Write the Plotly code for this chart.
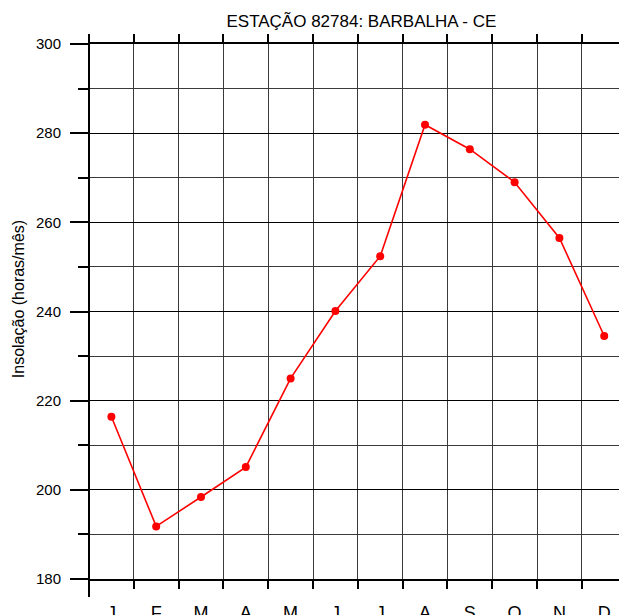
import plotly.graph_objects as go

months = ["J", "F", "M", "A", "M", "J", "J", "A", "S", "O", "N", "D"]
insolacao = [216.4, 191.8, 198.4, 205.1, 225.0, 240.1, 252.4, 281.9, 276.4, 269.0, 256.5, 234.5]
y_major = [180, 200, 220, 240, 260, 280, 300]
y_minor = [190, 210, 230, 250, 270, 290]

centers = [i + 0.5 for i in range(len(months))]
bounds = list(range(len(months)))

FONT = "Liberation Sans, Arial, sans-serif"
GRID = "#3a3a3a"

fig = go.Figure()
fig.add_trace(go.Scatter(
    x=centers, y=insolacao, mode="lines+markers",
    line=dict(color="#ff0000", width=1.6),
    marker=dict(color="#ff0000", size=8),
    cliponaxis=False, showlegend=False,
))

fig.update_layout(
    width=619, height=615,
    margin=dict(l=89, r=0, t=44, b=36.3, autoexpand=False),
    paper_bgcolor="white", plot_bgcolor="white",
    font=dict(family=FONT, color="black"),
    title=dict(text="ESTAÇÃO 82784: BARBALHA - CE", xref="paper", x=0.514, xanchor="center",
               y=0.976, yanchor="top", automargin=False,
               font=dict(size=17, family=FONT, color="black")),
    xaxis=dict(
        range=[0, 11.83], tickmode="array", tickvals=centers, ticktext=months,
        ticks="outside", ticklen=8, tickcolor="rgba(0,0,0,0)", ticklabelstandoff=8,
        showgrid=False, zeroline=False, showline=True, linecolor="black", linewidth=2,
        mirror="ticks", automargin=False,
        tickfont=dict(size=18, family=FONT, color="black"),
        minor=dict(tickmode="array", tickvals=bounds, ticks="outside", ticklen=8,
                   tickcolor="black", tickwidth=1.5, showgrid=True,
                   gridcolor=GRID, gridwidth=1.4),
    ),
    yaxis=dict(
        range=[180, 300], tickmode="array", tickvals=y_major,
        ticktext=[str(v) for v in y_major],
        ticks="outside", ticklen=18, tickwidth=1.5, tickcolor="black",
        ticklabelstandoff=6, automargin=False,
        showgrid=True, gridcolor="black", gridwidth=1.4, zeroline=False,
        showline=False,
        tickfont=dict(size=15, family=FONT, color="black"),
        minor=dict(tickmode="array", tickvals=y_minor, ticks="outside", ticklen=10,
                   tickcolor="black", tickwidth=1.5, showgrid=True,
                   gridcolor=GRID, gridwidth=1.4),
    ),
)

fig.add_annotation(text="Insolação (horas/mês)", textangle=-90, xref="paper", yref="paper",
                   x=-0.134, y=0.523, xanchor="center", yanchor="middle", showarrow=False,
                   font=dict(size=16, family=FONT, color="black"))

# y axis line extending beyond the plot area
fig.add_shape(type="line", xref="paper", yref="paper", x0=0, x1=0,
              y0=-0.0337, y1=1.0168, line=dict(color="black", width=2))

fig.write_html(
    "out.html",
    config={"displayModeBar": False},
    post_script=("document.documentElement.style.overflow='hidden';"
                 "document.body.style.margin='0';document.body.style.overflow='hidden';"),
)
